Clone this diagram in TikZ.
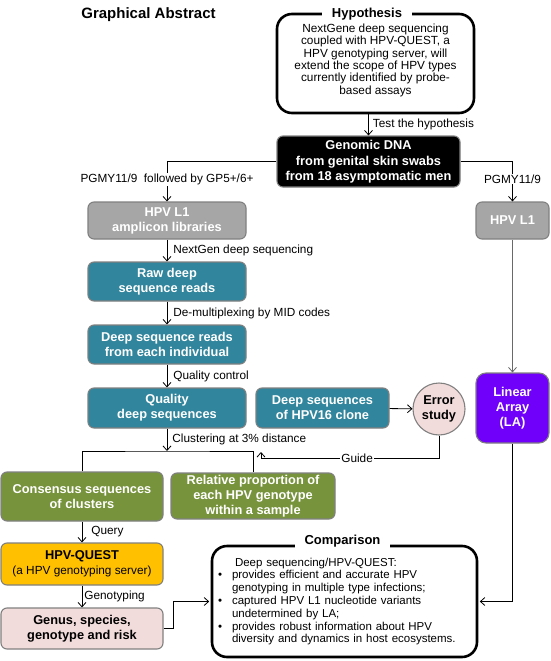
\documentclass[tikz,border=0pt]{standalone}
\usepackage{fontspec}
\setmainfont{Liberation Sans}
\usetikzlibrary{arrows.meta}
\definecolor{boxgray}{RGB}{166,166,166}
\definecolor{teal1}{RGB}{49,133,156}
\definecolor{green1}{RGB}{119,147,60}
\definecolor{gold1}{RGB}{255,192,0}
\definecolor{pink1}{RGB}{242,220,219}
\definecolor{violet1}{RGB}{112,0,250}
\definecolor{edgegray}{RGB}{128,128,128}
\definecolor{linegray}{RGB}{105,105,105}

\begin{document}
\begin{tikzpicture}[x=1pt,y=-1pt,
  box/.style={draw=edgegray,line width=1.1pt,rounded corners=6pt,align=center,inner sep=0pt,text=white,font=\bfseries\fontsize{12.8}{15}\selectfont},
  bigbox/.style={draw=black,line width=2.6pt,rounded corners=15pt,inner sep=0pt},
  boxtitle/.style={fill=white,inner xsep=10pt,inner ysep=1pt,font=\bfseries\fontsize{13}{15}\selectfont},
  lbl/.style={inner sep=1pt,font=\fontsize{11.8}{13}\selectfont},
  arr/.style={line width=0.8pt,-{Straight Barb[length=4.5pt,width=8pt]}}]
\useasboundingbox (0,0) rectangle (550,661);

\node[font=\bfseries\fontsize{15}{17}\selectfont] (title) at (148.5,15) {Graphical Abstract};

\node[bigbox,align=center,minimum width=197pt,minimum height=99pt,font=\fontsize{11.8}{12.4}\selectfont] (hyp) at (375.5,63.5) {NextGene deep sequencing\\coupled with HPV-QUEST, a\\HPV genotyping server, will\\extend the scope of HPV types\\currently identified by probe-\\based assays\rule[-9pt]{0pt}{9pt}};
\node[boxtitle] (hyptitle) at (367,14) {Hypothesis};

\node[box,fill=black,minimum width=183pt,minimum height=51pt] (dna) at (368.5,161.5) {Genomic DNA\\[1.5pt]from genital skin swabs\\from 18 asymptomatic men};

\node[box,fill=boxgray,minimum width=158pt,minimum height=37pt] (amplicon) at (167,220.5) {HPV L1\\amplicon libraries};
\node[box,fill=teal1,minimum width=158pt,minimum height=39pt] (raw) at (167,281.5) {Raw deep\\sequence reads};
\node[box,fill=teal1,minimum width=158pt,minimum height=39pt] (reads) at (167,344.5) {Deep sequence reads\\from each individual};
\node[box,fill=teal1,minimum width=158pt,minimum height=40pt] (quality) at (167,408) {Quality\\deep sequences};
\node[box,fill=teal1,minimum width=133pt,minimum height=40pt] (clone) at (322.5,408) {Deep sequences\\of HPV16 clone};
\node[box,circle,fill=pink1,text=black,minimum size=52pt] (error) at (439,409) {Error\\study};

\node[box,fill=boxgray,minimum width=73pt,minimum height=37pt] (hpvl1) at (512.5,220.5) {HPV L1};
\node[box,fill=violet1,rounded corners=10pt,minimum width=73pt,minimum height=70pt] (la) at (512.5,408) {Linear\\Array\\(LA)};

\node[box,fill=green1,minimum width=162pt,minimum height=49pt] (consensus) at (82,496.5) {Consensus sequences\\of clusters};
\node[box,fill=green1,minimum width=164pt,minimum height=46pt] (proportion) at (253,496) {Relative proportion of\\each HPV genotype\\within a sample};
\node[box,fill=gold1,text=black,minimum width=162pt,minimum height=42pt] (quest) at (82,564) {HPV-QUEST\\{\normalfont\fontsize{11.8}{15}\selectfont (a HPV genotyping server)}};
\node[box,fill=pink1,text=black,minimum width=162pt,minimum height=41pt] (genus) at (82,628.5) {Genus, species,\\genotype and risk};

\node[bigbox,align=left,text width=253pt,minimum width=265pt,minimum height=111pt,font=\fontsize{11.5}{12.8}\selectfont] (compare) at (344.5,601.5) {\hspace*{17pt}Deep sequencing/HPV-QUEST:\\
\textbullet\hspace{10pt}provides efficient and accurate HPV\\
\hspace*{14pt}genotyping in multiple type infections;\\
\textbullet\hspace{10pt}captured HPV L1 nucleotide variants\\
\hspace*{14pt}undetermined by LA;\\
\textbullet\hspace{10pt}provides robust information about HPV\\
\hspace*{14pt}diversity and dynamics in host ecosystems.};
\node[boxtitle] (comptitle) at (342.5,541) {Comparison};

\draw[arr] (dna.north |- hyp.south) -- (dna.north) node[lbl,midway,right=3pt] {Test the hypothesis};
\draw[arr] (dna.west) -| (amplicon.north) node[lbl,fill=white,pos=0.73] {PGMY11/9\ \ followed by GP5+/6+};
\draw[arr] (dna.east) -| (hpvl1.north) node[lbl,fill=white,pos=0.72] {PGMY11/9};
\draw[arr] (amplicon) -- (raw) node[lbl,midway,right=5pt] {NextGen deep sequencing};
\draw[arr] (raw) -- (reads) node[lbl,midway,right=5pt] {De-multiplexing by MID codes};
\draw[arr] (reads) -- (quality) node[lbl,midway,right=5pt] {Quality control};
\coordinate (split) at (167,451);
\draw[arr] (quality) -- (split) node[lbl,midway,right=4pt] {Clustering at 3\% distance};
\draw[line width=1pt] (consensus.north) |- (split) -| (proportion.north);
\draw[arr] (clone) -- (error);
\coordinate (guidecorner) at (261,458);
\coordinate (guideend) at (261,452);
\draw[arr] (error.south) |- (guidecorner) node[lbl,fill=white,pos=0.73] {Guide} -- (guideend);
\draw[arr,draw=linegray] (hpvl1) -- (la);
\draw[arr,shorten >=1.5pt] (la.south) |- (compare.east);
\draw[arr] (consensus) -- (quest) node[lbl,midway,right=8pt] {Query};
\draw[arr] (quest) -- (genus) node[lbl,midway,right=1pt] {Genotyping};
\draw[arr,shorten >=1.5pt] (genus.east) -- ++(10,0) |- (compare.west);
\end{tikzpicture}
\end{document}
